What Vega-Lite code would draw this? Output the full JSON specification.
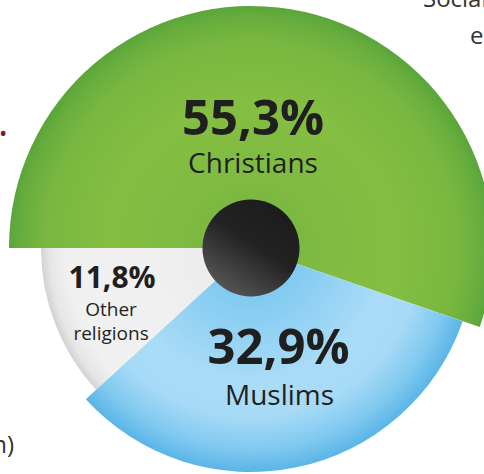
{
  "$schema": "https://vega.github.io/schema/vega-lite/v6.json",
  "width": 466,
  "height": 452,
  "autosize": {"type": "none"},
  "padding": {"left": 18, "top": 22, "right": 0, "bottom": 0},
  "background": "white",
  "config": {"view": {"stroke": null}},
  "datasets": {
    "shares": [
      {"religion": "Christians", "share": 55.3, "label": "55,3%"},
      {"religion": "Muslims", "share": 32.9, "label": "32,9%"},
      {"religion": "Other religions", "share": 11.8, "label": "11,8%"}
    ],
    "notes": [
      {"id": "a", "text": "Social"},
      {"id": "b", "text": "e"},
      {"id": "c", "text": "n)"},
      {"id": "d", "text": "•"}
    ]
  },
  "layer": [
    {
      "data": {"name": "shares"},
      "transform": [
        {"stack": "share", "groupby": [], "sort": [{"field": "religion", "order": "ascending"}], "as": ["v0", "v1"]}
      ],
      "layer": [
        {
          "transform": [{"filter": "datum.religion === 'Christians'"}],
          "mark": {
            "type": "arc", "radius": 242,
            "fill": {"gradient": "radial", "x1": 0.5, "y1": 0.6683, "r1": 0, "x2": 0.5, "y2": 0.6683, "r2": 0.5,
              "stops": [
                {"offset": 0, "color": "#72b340"},
                {"offset": 0.3, "color": "#80bb42"},
                {"offset": 0.6, "color": "#84be42"},
                {"offset": 0.85, "color": "#79b740"},
                {"offset": 0.95, "color": "#68ae3e"},
                {"offset": 1, "color": "#5aa53a"}
              ]}
          },
          "encoding": {
            "theta": {"field": "v0", "type": "quantitative", "scale": {"domain": [0, 100], "range": [4.712389, 10.995574]}},
            "theta2": {"field": "v1"}
          }
        },
        {
          "transform": [{"filter": "datum.religion === 'Other religions'"}],
          "mark": {
            "type": "arc", "radius": 210,
            "fill": {"gradient": "radial", "x1": 1.0, "y1": 0.1624, "r1": 0, "x2": 1.0, "y2": 0.1624, "r2": 1.0,
              "stops": [
                {"offset": 0, "color": "#e9e9e9"},
                {"offset": 0.5, "color": "#f0f0f0"},
                {"offset": 0.88, "color": "#f1f1f1"},
                {"offset": 0.96, "color": "#e6e6e6"},
                {"offset": 1, "color": "#d2d2d2"}
              ]}
          },
          "encoding": {
            "theta": {"field": "v0", "type": "quantitative", "scale": {"domain": [0, 100], "range": [4.712389, 10.995574]}},
            "theta2": {"field": "v1"}
          }
        },
        {
          "transform": [{"filter": "datum.religion === 'Muslims'"}],
          "mark": {
            "type": "arc", "radius": 224,
            "fill": {"gradient": "radial", "x1": 0.4383, "y1": 0.2028, "r1": 0, "x2": 0.4383, "y2": 0.2028, "r2": 0.5943,
              "stops": [
                {"offset": 0, "color": "#6cc0ec"},
                {"offset": 0.35, "color": "#8fd0f3"},
                {"offset": 0.6, "color": "#aadcf7"},
                {"offset": 0.76, "color": "#a6daf6"},
                {"offset": 0.9, "color": "#80c9f0"},
                {"offset": 1, "color": "#5ab5e6"}
              ]}
          },
          "encoding": {
            "theta": {"field": "v0", "type": "quantitative", "scale": {"domain": [0, 100], "range": [4.712389, 10.995574]}},
            "theta2": {"field": "v1"}
          }
        },
        {
          "transform": [{"filter": "datum.religion === 'Christians'"}],
          "mark": {
            "type": "arc", "radius": 48.5, "theta": 0, "theta2": 6.2832,
            "fill": {"gradient": "linear", "x1": 0.8, "y1": 0.1, "x2": 0.25, "y2": 0.95,
              "stops": [
                {"offset": 0, "color": "#1c1c1c"},
                {"offset": 0.45, "color": "#222222"},
                {"offset": 1, "color": "#555555"}
              ]}
          },
          "encoding": {}
        },
        {
          "transform": [{"filter": "datum.religion === 'Christians'"}],
          "mark": {"type": "text", "font": "Open Sans", "fontWeight": "bold", "fontSize": 49, "color": "#1f1f1f", "align": "center", "baseline": "alphabetic", "radius": 113, "theta": 0.0177},
          "encoding": {"text": {"field": "label"}}
        },
        {
          "transform": [{"filter": "datum.religion === 'Christians'"}],
          "mark": {"type": "text", "font": "Open Sans", "fontSize": 28, "color": "#1f1f1f", "align": "center", "baseline": "alphabetic", "radius": 75.03, "theta": 0.0267},
          "encoding": {"text": {"field": "religion"}}
        },
        {
          "transform": [{"filter": "datum.religion === 'Muslims'"}],
          "mark": {"type": "text", "font": "Open Sans", "fontWeight": "bold", "fontSize": 49, "color": "#1f1f1f", "align": "center", "baseline": "alphabetic", "radius": 119.2, "theta": 2.909},
          "encoding": {"text": {"field": "label"}}
        },
        {
          "transform": [{"filter": "datum.religion === 'Muslims'"}],
          "mark": {"type": "text", "font": "Open Sans", "fontSize": 28, "color": "#1f1f1f", "align": "center", "baseline": "alphabetic", "radius": 159.6, "theta": 2.9619},
          "encoding": {"text": {"field": "religion"}}
        },
        {
          "transform": [{"filter": "datum.religion === 'Other religions'"}],
          "mark": {"type": "text", "font": "Open Sans", "fontWeight": "bold", "fontSize": 30, "color": "#1f1f1f", "align": "center", "baseline": "alphabetic", "radius": 144.6, "theta": 4.4318},
          "encoding": {"text": {"field": "label"}}
        },
        {
          "transform": [{"filter": "datum.religion === 'Other religions'"}],
          "mark": {"type": "text", "font": "Open Sans", "fontSize": 19, "color": "#1f1f1f", "align": "center", "baseline": "alphabetic", "lineBreak": " ", "lineHeight": 24, "radius": 155.6, "theta": 4.2601},
          "encoding": {"text": {"field": "religion"}}
        }
      ]
    },
    {
      "data": {"name": "notes"},
      "layer": [
        {
          "transform": [{"filter": "datum.id === 'a'"}],
          "mark": {"type": "text", "font": "Open Sans", "fontSize": 24, "color": "#333333", "align": "left", "baseline": "alphabetic", "radius": 296.1, "theta": 0.6197},
          "encoding": {"text": {"field": "text"}}
        },
        {
          "transform": [{"filter": "datum.id === 'b'"}],
          "mark": {"type": "text", "font": "Open Sans", "fontSize": 24, "color": "#333333", "align": "left", "baseline": "alphabetic", "radius": 299.3, "theta": 0.8211},
          "encoding": {"text": {"field": "text"}}
        },
        {
          "transform": [{"filter": "datum.id === 'c'"}],
          "mark": {"type": "text", "font": "Open Sans", "fontSize": 24, "color": "#333333", "align": "right", "baseline": "alphabetic", "radius": 313.4, "theta": 3.9993},
          "encoding": {"text": {"field": "text"}}
        },
        {
          "transform": [{"filter": "datum.id === 'd'"}],
          "mark": {"type": "text", "font": "Open Sans", "fontSize": 22, "color": "#7a1a35", "align": "center", "baseline": "alphabetic", "radius": 270.1, "theta": 5.1199},
          "encoding": {"text": {"field": "text"}}
        }
      ]
    }
  ]
}
